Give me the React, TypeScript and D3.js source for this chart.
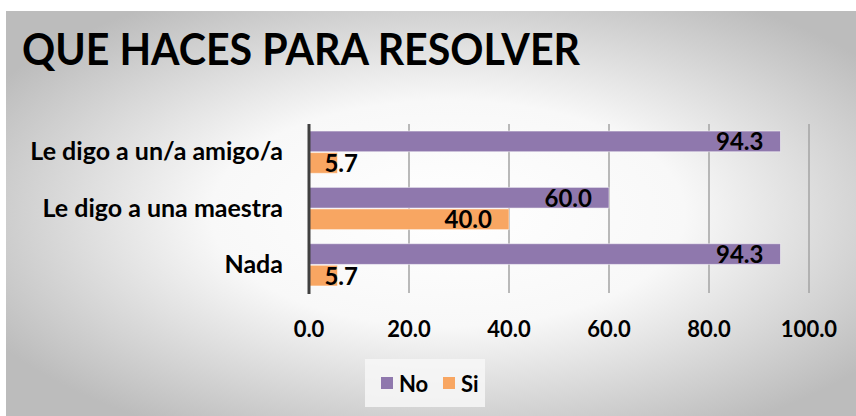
import { useRef, useEffect } from "react";
import * as d3 from "d3";

const categories = ["Le digo a un/a amigo/a", "Le digo a una maestra", "Nada"];
const series = ["No", "Si"];
const noValues = [94.3, 60.0, 94.3];
const siValues = [5.7, 40.0, 5.7];
const ticks = [0, 20, 40, 60, 80, 100];
const colors = ["#8f78ad", "#f8a662"];

const width = 856;
const height = 416;
const font = "Lato, 'Open Sans', sans-serif";

const App = () => {
  const svgRef = useRef<SVGSVGElement>(null);

  useEffect(() => {
    const svg = d3.select(svgRef.current);
    svg.selectAll("*").remove();

    const defs = svg.append("defs");
    const grad = defs
      .append("radialGradient")
      .attr("id", "bg")
      .attr("cx", "52%")
      .attr("cy", "50%")
      .attr("r", "62%");
    grad.append("stop").attr("offset", "0%").attr("stop-color", "#ffffff");
    grad.append("stop").attr("offset", "45%").attr("stop-color", "#f8f8f8");
    grad.append("stop").attr("offset", "100%").attr("stop-color", "#bcbcbc");

    svg.append("rect").attr("width", width).attr("height", height).attr("fill", "#fff");
    svg
      .append("rect")
      .attr("x", 6)
      .attr("y", 11)
      .attr("width", width - 6)
      .attr("height", height - 11)
      .attr("fill", "url(#bg)");

    // title
    svg
      .append("text")
      .attr("x", 22)
      .attr("y", 65)
      .attr("font-family", font)
      .attr("font-weight", 700)
      .attr("font-size", 44)
      .attr("textLength", 558)
      .attr("lengthAdjust", "spacingAndGlyphs")
      .attr("fill", "#000")
      .text("QUE HACES PARA RESOLVER");

    const x = d3.scaleLinear().domain([0, 100]).range([309, 809]);
    const y = d3
      .scaleBand()
      .domain(categories)
      .range([124, 293])
      .paddingInner(0.25)
      .paddingOuter(0.125);
    const ySub = d3.scaleBand().domain(series).range([0, y.bandwidth()]).paddingInner(0.04);

    // gridlines
    svg
      .append("g")
      .selectAll("line")
      .data(ticks.slice(1))
      .join("line")
      .attr("x1", (d) => x(d))
      .attr("x2", (d) => x(d))
      .attr("y1", 124)
      .attr("y2", 293)
      .attr("stroke", "#a3a3a3")
      .attr("stroke-width", 1.5);

    const rows = categories.map((c, i) => ({ cat: c, values: [noValues[i], siValues[i]] }));

    const g = svg
      .append("g")
      .selectAll("g")
      .data(rows)
      .join("g")
      .attr("transform", (d) => `translate(0,${y(d.cat)})`);

    g.selectAll("rect")
      .data((d) => d.values.map((v, j) => ({ v, s: series[j], j })))
      .join("rect")
      .attr("x", x(0))
      .attr("y", (d) => ySub(d.s)!)
      .attr("width", (d) => x(d.v) - x(0))
      .attr("height", ySub.bandwidth())
      .attr("fill", (d) => colors[d.j])
      .attr("stroke", "rgba(255,255,255,0.5)")
      .attr("stroke-width", 1);

    g.selectAll("text")
      .data((d) => d.values.map((v, j) => ({ v, s: series[j] })))
      .join("text")
      .attr("x", (d) => Math.max(x(d.v) - 17, x(0) + 49))
      .attr("y", (d) => ySub(d.s)! + ySub.bandwidth() / 2 + 9)
      .attr("text-anchor", "end")
      .attr("font-family", font)
      .attr("font-weight", 700)
      .attr("font-size", 24)
      .attr("fill", "#000")
      .text((d) => d.v.toFixed(1));

    // axis line
    svg
      .append("line")
      .attr("x1", x(0))
      .attr("x2", x(0))
      .attr("y1", 124)
      .attr("y2", 294)
      .attr("stroke", "#404040")
      .attr("stroke-width", 3);

    // category labels
    svg
      .append("g")
      .selectAll("text")
      .data(categories)
      .join("text")
      .attr("x", 283)
      .attr("y", (d) => y(d)! + y.bandwidth() / 2 + 8)
      .attr("text-anchor", "end")
      .attr("font-family", font)
      .attr("font-weight", 700)
      .attr("font-size", 25)
      .attr("fill", "#000")
      .text((d) => d);

    // tick labels
    svg
      .append("g")
      .selectAll("text")
      .data(ticks)
      .join("text")
      .attr("x", (d) => x(d))
      .attr("y", 337)
      .attr("text-anchor", "middle")
      .attr("font-family", font)
      .attr("font-weight", 700)
      .attr("font-size", 22)
      .attr("fill", "#000")
      .text((d) => d.toFixed(1));

    // legend
    const legend = svg.append("g");
    legend
      .append("rect")
      .attr("x", 365)
      .attr("y", 359)
      .attr("width", 120)
      .attr("height", 48)
      .attr("fill", "#f7f7f7")
      .attr("opacity", 0.85);
    const items = [
      { s: series[0], x: 381 },
      { s: series[1], x: 443 },
    ];
    items.forEach((it, i) => {
      legend
        .append("rect")
        .attr("x", it.x)
        .attr("y", 377)
        .attr("width", 12)
        .attr("height", 12)
        .attr("fill", colors[i]);
      legend
        .append("text")
        .attr("x", it.x + 18)
        .attr("y", 392)
        .attr("font-family", font)
        .attr("font-weight", 700)
        .attr("font-size", 22)
        .attr("fill", "#000")
        .text(it.s);
    });
  }, []);

  return (
    <div style={{ position: "absolute", left: 0, top: 0 }}>
      <svg ref={svgRef} width={width} height={height} style={{ display: "block" }} />
    </div>
  );
};

export default App;
